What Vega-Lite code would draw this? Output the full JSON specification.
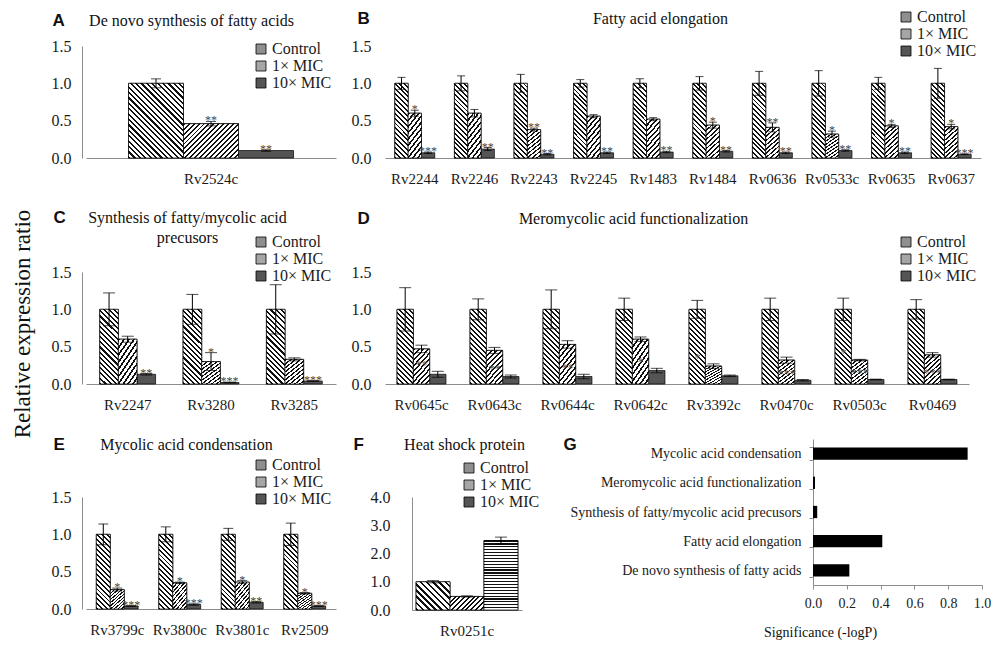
{
  "$schema": "https://vega.github.io/schema/vega-lite/v6.json",
  "background": "white",
  "padding": {"left": 11, "top": 9, "right": 5, "bottom": 5},
  "title": {"text": "Relative expression ratio", "orient": "left", "anchor": "middle", "font": "Liberation Serif", "fontSize": 23, "fontWeight": "normal", "color": "#111", "offset": 16},
  "params": [
    {"name": "s10", "value": [
      {"offset":0,"color":"#111"},{"offset":0.04,"color":"#111"},{"offset":0.04,"color":"#fff"},{"offset":0.1,"color":"#fff"},
      {"offset":0.1,"color":"#111"},{"offset":0.14,"color":"#111"},{"offset":0.14,"color":"#fff"},{"offset":0.2,"color":"#fff"},
      {"offset":0.2,"color":"#111"},{"offset":0.24,"color":"#111"},{"offset":0.24,"color":"#fff"},{"offset":0.3,"color":"#fff"},
      {"offset":0.3,"color":"#111"},{"offset":0.34,"color":"#111"},{"offset":0.34,"color":"#fff"},{"offset":0.4,"color":"#fff"},
      {"offset":0.4,"color":"#111"},{"offset":0.44,"color":"#111"},{"offset":0.44,"color":"#fff"},{"offset":0.5,"color":"#fff"},
      {"offset":0.5,"color":"#111"},{"offset":0.54,"color":"#111"},{"offset":0.54,"color":"#fff"},{"offset":0.6,"color":"#fff"},
      {"offset":0.6,"color":"#111"},{"offset":0.64,"color":"#111"},{"offset":0.64,"color":"#fff"},{"offset":0.7,"color":"#fff"},
      {"offset":0.7,"color":"#111"},{"offset":0.74,"color":"#111"},{"offset":0.74,"color":"#fff"},{"offset":0.8,"color":"#fff"},
      {"offset":0.8,"color":"#111"},{"offset":0.84,"color":"#111"},{"offset":0.84,"color":"#fff"},{"offset":0.9,"color":"#fff"},
      {"offset":0.9,"color":"#111"},{"offset":0.94,"color":"#111"},{"offset":0.94,"color":"#fff"},{"offset":1,"color":"#fff"}
    ]},
    {"name": "s18", "value": [
      {"offset":0,"color":"#111"},{"offset":0.0222,"color":"#111"},{"offset":0.0222,"color":"#fff"},{"offset":0.0556,"color":"#fff"},
      {"offset":0.0556,"color":"#111"},{"offset":0.0778,"color":"#111"},{"offset":0.0778,"color":"#fff"},{"offset":0.1111,"color":"#fff"},
      {"offset":0.1111,"color":"#111"},{"offset":0.1333,"color":"#111"},{"offset":0.1333,"color":"#fff"},{"offset":0.1667,"color":"#fff"},
      {"offset":0.1667,"color":"#111"},{"offset":0.1889,"color":"#111"},{"offset":0.1889,"color":"#fff"},{"offset":0.2222,"color":"#fff"},
      {"offset":0.2222,"color":"#111"},{"offset":0.2444,"color":"#111"},{"offset":0.2444,"color":"#fff"},{"offset":0.2778,"color":"#fff"},
      {"offset":0.2778,"color":"#111"},{"offset":0.3,"color":"#111"},{"offset":0.3,"color":"#fff"},{"offset":0.3333,"color":"#fff"},
      {"offset":0.3333,"color":"#111"},{"offset":0.3556,"color":"#111"},{"offset":0.3556,"color":"#fff"},{"offset":0.3889,"color":"#fff"},
      {"offset":0.3889,"color":"#111"},{"offset":0.4111,"color":"#111"},{"offset":0.4111,"color":"#fff"},{"offset":0.4444,"color":"#fff"},
      {"offset":0.4444,"color":"#111"},{"offset":0.4667,"color":"#111"},{"offset":0.4667,"color":"#fff"},{"offset":0.5,"color":"#fff"},
      {"offset":0.5,"color":"#111"},{"offset":0.5222,"color":"#111"},{"offset":0.5222,"color":"#fff"},{"offset":0.5556,"color":"#fff"},
      {"offset":0.5556,"color":"#111"},{"offset":0.5778,"color":"#111"},{"offset":0.5778,"color":"#fff"},{"offset":0.6111,"color":"#fff"},
      {"offset":0.6111,"color":"#111"},{"offset":0.6333,"color":"#111"},{"offset":0.6333,"color":"#fff"},{"offset":0.6667,"color":"#fff"},
      {"offset":0.6667,"color":"#111"},{"offset":0.6889,"color":"#111"},{"offset":0.6889,"color":"#fff"},{"offset":0.7222,"color":"#fff"},
      {"offset":0.7222,"color":"#111"},{"offset":0.7444,"color":"#111"},{"offset":0.7444,"color":"#fff"},{"offset":0.7778,"color":"#fff"},
      {"offset":0.7778,"color":"#111"},{"offset":0.8,"color":"#111"},{"offset":0.8,"color":"#fff"},{"offset":0.8333,"color":"#fff"},
      {"offset":0.8333,"color":"#111"},{"offset":0.8556,"color":"#111"},{"offset":0.8556,"color":"#fff"},{"offset":0.8889,"color":"#fff"},
      {"offset":0.8889,"color":"#111"},{"offset":0.9111,"color":"#111"},{"offset":0.9111,"color":"#fff"},{"offset":0.9444,"color":"#fff"},
      {"offset":0.9444,"color":"#111"},{"offset":0.9667,"color":"#111"},{"offset":0.9667,"color":"#fff"},{"offset":1,"color":"#fff"}
    ]},
    {"name": "s24", "value": [
      {"offset":0,"color":"#111"},{"offset":0.0167,"color":"#111"},{"offset":0.0167,"color":"#fff"},{"offset":0.0417,"color":"#fff"},
      {"offset":0.0417,"color":"#111"},{"offset":0.0584,"color":"#111"},{"offset":0.0584,"color":"#fff"},{"offset":0.0833,"color":"#fff"},
      {"offset":0.0833,"color":"#111"},{"offset":0.1,"color":"#111"},{"offset":0.1,"color":"#fff"},{"offset":0.125,"color":"#fff"},
      {"offset":0.125,"color":"#111"},{"offset":0.1417,"color":"#111"},{"offset":0.1417,"color":"#fff"},{"offset":0.1667,"color":"#fff"},
      {"offset":0.1667,"color":"#111"},{"offset":0.1834,"color":"#111"},{"offset":0.1834,"color":"#fff"},{"offset":0.2083,"color":"#fff"},
      {"offset":0.2083,"color":"#111"},{"offset":0.225,"color":"#111"},{"offset":0.225,"color":"#fff"},{"offset":0.25,"color":"#fff"},
      {"offset":0.25,"color":"#111"},{"offset":0.2667,"color":"#111"},{"offset":0.2667,"color":"#fff"},{"offset":0.2917,"color":"#fff"},
      {"offset":0.2917,"color":"#111"},{"offset":0.3084,"color":"#111"},{"offset":0.3084,"color":"#fff"},{"offset":0.3333,"color":"#fff"},
      {"offset":0.3333,"color":"#111"},{"offset":0.35,"color":"#111"},{"offset":0.35,"color":"#fff"},{"offset":0.375,"color":"#fff"},
      {"offset":0.375,"color":"#111"},{"offset":0.3917,"color":"#111"},{"offset":0.3917,"color":"#fff"},{"offset":0.4167,"color":"#fff"},
      {"offset":0.4167,"color":"#111"},{"offset":0.4334,"color":"#111"},{"offset":0.4334,"color":"#fff"},{"offset":0.4583,"color":"#fff"},
      {"offset":0.4583,"color":"#111"},{"offset":0.475,"color":"#111"},{"offset":0.475,"color":"#fff"},{"offset":0.5,"color":"#fff"},
      {"offset":0.5,"color":"#111"},{"offset":0.5167,"color":"#111"},{"offset":0.5167,"color":"#fff"},{"offset":0.5417,"color":"#fff"},
      {"offset":0.5417,"color":"#111"},{"offset":0.5584,"color":"#111"},{"offset":0.5584,"color":"#fff"},{"offset":0.5833,"color":"#fff"},
      {"offset":0.5833,"color":"#111"},{"offset":0.6,"color":"#111"},{"offset":0.6,"color":"#fff"},{"offset":0.625,"color":"#fff"},
      {"offset":0.625,"color":"#111"},{"offset":0.6417,"color":"#111"},{"offset":0.6417,"color":"#fff"},{"offset":0.6667,"color":"#fff"},
      {"offset":0.6667,"color":"#111"},{"offset":0.6834,"color":"#111"},{"offset":0.6834,"color":"#fff"},{"offset":0.7083,"color":"#fff"},
      {"offset":0.7083,"color":"#111"},{"offset":0.725,"color":"#111"},{"offset":0.725,"color":"#fff"},{"offset":0.75,"color":"#fff"},
      {"offset":0.75,"color":"#111"},{"offset":0.7667,"color":"#111"},{"offset":0.7667,"color":"#fff"},{"offset":0.7917,"color":"#fff"},
      {"offset":0.7917,"color":"#111"},{"offset":0.8084,"color":"#111"},{"offset":0.8084,"color":"#fff"},{"offset":0.8333,"color":"#fff"},
      {"offset":0.8333,"color":"#111"},{"offset":0.85,"color":"#111"},{"offset":0.85,"color":"#fff"},{"offset":0.875,"color":"#fff"},
      {"offset":0.875,"color":"#111"},{"offset":0.8917,"color":"#111"},{"offset":0.8917,"color":"#fff"},{"offset":0.9167,"color":"#fff"},
      {"offset":0.9167,"color":"#111"},{"offset":0.9334,"color":"#111"},{"offset":0.9334,"color":"#fff"},{"offset":0.9583,"color":"#fff"},
      {"offset":0.9583,"color":"#111"},{"offset":0.975,"color":"#111"},{"offset":0.975,"color":"#fff"},{"offset":1,"color":"#fff"}
    ]}
  ],
  "config": {
    "view": {"stroke": null},
    "font": "Liberation Serif",
    "axis": {"grid": false, "ticks": false, "labelOverlap": false, "labelFlush": false, "domainColor": "#8c8c8c", "domainWidth": 1, "labelFont": "Liberation Serif", "labelColor": "#1a1a1a", "titleColor": "#111"},
    "axisX": {"labelAngle": 0, "labelFontSize": 15, "labelPadding": 13, "titleFont": "Liberation Serif", "titleFontWeight": "normal", "titleFontSize": 16, "titleAlign": "center", "titleBaseline": "middle"},
    "axisY": {"labelFontSize": 16, "titleFont": "Liberation Sans", "titleFontWeight": "bold", "titleFontSize": 17, "titleAngle": 0, "titleAlign": "left", "titleBaseline": "middle"},
    "legend": {"orient": "none", "symbolType": "square", "symbolSize": 100, "symbolStrokeColor": "#000", "symbolStrokeWidth": 0.8, "labelFont": "Liberation Serif", "labelFontSize": 16, "labelColor": "#1a1a1a", "rowPadding": 1, "labelOffset": 3, "padding": 0}
  },
  "datasets": {
    "A": [
      {"gene": "Rv2524c", "treatment": "Control", "value": 1.0, "lo": 0.94, "hi": 1.06, "star": ""},
      {"gene": "Rv2524c", "treatment": "1× MIC", "value": 0.46, "lo": 0.43, "hi": 0.49, "star": "**"},
      {"gene": "Rv2524c", "treatment": "10× MIC", "value": 0.10, "lo": 0.09, "hi": 0.11, "star": "**"}
    ],
    "B": [
      {"gene": "Rv2244", "treatment": "Control", "value": 1.0, "lo": 0.92, "hi": 1.08, "star": ""},
      {"gene": "Rv2244", "treatment": "1× MIC", "value": 0.60, "lo": 0.56, "hi": 0.64, "star": "*"},
      {"gene": "Rv2244", "treatment": "10× MIC", "value": 0.07, "lo": 0.06, "hi": 0.08, "star": "***"},
      {"gene": "Rv2246", "treatment": "Control", "value": 1.0, "lo": 0.90, "hi": 1.10, "star": ""},
      {"gene": "Rv2246", "treatment": "1× MIC", "value": 0.60, "lo": 0.55, "hi": 0.65, "star": ""},
      {"gene": "Rv2246", "treatment": "10× MIC", "value": 0.12, "lo": 0.10, "hi": 0.14, "star": "**"},
      {"gene": "Rv2243", "treatment": "Control", "value": 1.0, "lo": 0.88, "hi": 1.12, "star": ""},
      {"gene": "Rv2243", "treatment": "1× MIC", "value": 0.38, "lo": 0.36, "hi": 0.40, "star": "**"},
      {"gene": "Rv2243", "treatment": "10× MIC", "value": 0.05, "lo": 0.04, "hi": 0.06, "star": "**"},
      {"gene": "Rv2245", "treatment": "Control", "value": 1.0, "lo": 0.95, "hi": 1.05, "star": ""},
      {"gene": "Rv2245", "treatment": "1× MIC", "value": 0.56, "lo": 0.54, "hi": 0.58, "star": ""},
      {"gene": "Rv2245", "treatment": "10× MIC", "value": 0.07, "lo": 0.06, "hi": 0.08, "star": "**"},
      {"gene": "Rv1483", "treatment": "Control", "value": 1.0, "lo": 0.94, "hi": 1.06, "star": ""},
      {"gene": "Rv1483", "treatment": "1× MIC", "value": 0.52, "lo": 0.50, "hi": 0.54, "star": ""},
      {"gene": "Rv1483", "treatment": "10× MIC", "value": 0.08, "lo": 0.07, "hi": 0.09, "star": "**"},
      {"gene": "Rv1484", "treatment": "Control", "value": 1.0, "lo": 0.91, "hi": 1.09, "star": ""},
      {"gene": "Rv1484", "treatment": "1× MIC", "value": 0.44, "lo": 0.40, "hi": 0.48, "star": "*"},
      {"gene": "Rv1484", "treatment": "10× MIC", "value": 0.09, "lo": 0.08, "hi": 0.10, "star": "**"},
      {"gene": "Rv0636", "treatment": "Control", "value": 1.0, "lo": 0.84, "hi": 1.16, "star": ""},
      {"gene": "Rv0636", "treatment": "1× MIC", "value": 0.41, "lo": 0.35, "hi": 0.47, "star": "**"},
      {"gene": "Rv0636", "treatment": "10× MIC", "value": 0.07, "lo": 0.06, "hi": 0.08, "star": "**"},
      {"gene": "Rv0533c", "treatment": "Control", "value": 1.0, "lo": 0.83, "hi": 1.17, "star": ""},
      {"gene": "Rv0533c", "treatment": "1× MIC", "value": 0.32, "lo": 0.28, "hi": 0.36, "star": "*"},
      {"gene": "Rv0533c", "treatment": "10× MIC", "value": 0.10, "lo": 0.09, "hi": 0.11, "star": "**"},
      {"gene": "Rv0635", "treatment": "Control", "value": 1.0, "lo": 0.92, "hi": 1.08, "star": ""},
      {"gene": "Rv0635", "treatment": "1× MIC", "value": 0.43, "lo": 0.41, "hi": 0.45, "star": "*"},
      {"gene": "Rv0635", "treatment": "10× MIC", "value": 0.07, "lo": 0.06, "hi": 0.08, "star": "**"},
      {"gene": "Rv0637", "treatment": "Control", "value": 1.0, "lo": 0.80, "hi": 1.20, "star": ""},
      {"gene": "Rv0637", "treatment": "1× MIC", "value": 0.42, "lo": 0.39, "hi": 0.45, "star": "*"},
      {"gene": "Rv0637", "treatment": "10× MIC", "value": 0.05, "lo": 0.045, "hi": 0.055, "star": "***"}
    ],
    "C": [
      {"gene": "Rv2247", "treatment": "Control", "value": 1.0, "lo": 0.78, "hi": 1.22, "star": ""},
      {"gene": "Rv2247", "treatment": "1× MIC", "value": 0.60, "lo": 0.56, "hi": 0.64, "star": ""},
      {"gene": "Rv2247", "treatment": "10× MIC", "value": 0.13, "lo": 0.12, "hi": 0.14, "star": "**"},
      {"gene": "Rv3280", "treatment": "Control", "value": 1.0, "lo": 0.80, "hi": 1.20, "star": ""},
      {"gene": "Rv3280", "treatment": "1× MIC", "value": 0.30, "lo": 0.18, "hi": 0.42, "star": "*"},
      {"gene": "Rv3280", "treatment": "10× MIC", "value": 0.02, "lo": 0.015, "hi": 0.025, "star": "***"},
      {"gene": "Rv3285", "treatment": "Control", "value": 1.0, "lo": 0.67, "hi": 1.33, "star": ""},
      {"gene": "Rv3285", "treatment": "1× MIC", "value": 0.33, "lo": 0.31, "hi": 0.35, "star": ""},
      {"gene": "Rv3285", "treatment": "10× MIC", "value": 0.04, "lo": 0.035, "hi": 0.045, "star": "***"}
    ],
    "D": [
      {"gene": "Rv0645c", "treatment": "Control", "value": 1.0, "lo": 0.71, "hi": 1.29, "star": ""},
      {"gene": "Rv0645c", "treatment": "1× MIC", "value": 0.47, "lo": 0.42, "hi": 0.52, "star": ""},
      {"gene": "Rv0645c", "treatment": "10× MIC", "value": 0.13, "lo": 0.09, "hi": 0.17, "star": "**"},
      {"gene": "Rv0643c", "treatment": "Control", "value": 1.0, "lo": 0.86, "hi": 1.14, "star": ""},
      {"gene": "Rv0643c", "treatment": "1× MIC", "value": 0.45, "lo": 0.41, "hi": 0.49, "star": ""},
      {"gene": "Rv0643c", "treatment": "10× MIC", "value": 0.10, "lo": 0.08, "hi": 0.12, "star": "**"},
      {"gene": "Rv0644c", "treatment": "Control", "value": 1.0, "lo": 0.74, "hi": 1.26, "star": ""},
      {"gene": "Rv0644c", "treatment": "1× MIC", "value": 0.53, "lo": 0.48, "hi": 0.58, "star": ""},
      {"gene": "Rv0644c", "treatment": "10× MIC", "value": 0.10, "lo": 0.07, "hi": 0.13, "star": "**"},
      {"gene": "Rv0642c", "treatment": "Control", "value": 1.0, "lo": 0.85, "hi": 1.15, "star": ""},
      {"gene": "Rv0642c", "treatment": "1× MIC", "value": 0.60, "lo": 0.57, "hi": 0.63, "star": ""},
      {"gene": "Rv0642c", "treatment": "10× MIC", "value": 0.18, "lo": 0.15, "hi": 0.21, "star": "*"},
      {"gene": "Rv3392c", "treatment": "Control", "value": 1.0, "lo": 0.88, "hi": 1.12, "star": ""},
      {"gene": "Rv3392c", "treatment": "1× MIC", "value": 0.24, "lo": 0.21, "hi": 0.27, "star": "*"},
      {"gene": "Rv3392c", "treatment": "10× MIC", "value": 0.11, "lo": 0.10, "hi": 0.12, "star": ""},
      {"gene": "Rv0470c", "treatment": "Control", "value": 1.0, "lo": 0.85, "hi": 1.15, "star": ""},
      {"gene": "Rv0470c", "treatment": "1× MIC", "value": 0.32, "lo": 0.28, "hi": 0.36, "star": "*"},
      {"gene": "Rv0470c", "treatment": "10× MIC", "value": 0.05, "lo": 0.04, "hi": 0.06, "star": "***"},
      {"gene": "Rv0503c", "treatment": "Control", "value": 1.0, "lo": 0.85, "hi": 1.15, "star": ""},
      {"gene": "Rv0503c", "treatment": "1× MIC", "value": 0.32, "lo": 0.31, "hi": 0.33, "star": "*"},
      {"gene": "Rv0503c", "treatment": "10× MIC", "value": 0.06, "lo": 0.055, "hi": 0.065, "star": "***"},
      {"gene": "Rv0469", "treatment": "Control", "value": 1.0, "lo": 0.87, "hi": 1.13, "star": ""},
      {"gene": "Rv0469", "treatment": "1× MIC", "value": 0.39, "lo": 0.36, "hi": 0.42, "star": ""},
      {"gene": "Rv0469", "treatment": "10× MIC", "value": 0.06, "lo": 0.055, "hi": 0.065, "star": "***"}
    ],
    "E": [
      {"gene": "Rv3799c", "treatment": "Control", "value": 1.0, "lo": 0.86, "hi": 1.14, "star": ""},
      {"gene": "Rv3799c", "treatment": "1× MIC", "value": 0.26, "lo": 0.24, "hi": 0.28, "star": "*"},
      {"gene": "Rv3799c", "treatment": "10× MIC", "value": 0.04, "lo": 0.035, "hi": 0.045, "star": "***"},
      {"gene": "Rv3800c", "treatment": "Control", "value": 1.0, "lo": 0.90, "hi": 1.10, "star": ""},
      {"gene": "Rv3800c", "treatment": "1× MIC", "value": 0.35, "lo": 0.34, "hi": 0.36, "star": "*"},
      {"gene": "Rv3800c", "treatment": "10× MIC", "value": 0.06, "lo": 0.05, "hi": 0.07, "star": "***"},
      {"gene": "Rv3801c", "treatment": "Control", "value": 1.0, "lo": 0.92, "hi": 1.08, "star": ""},
      {"gene": "Rv3801c", "treatment": "1× MIC", "value": 0.36, "lo": 0.34, "hi": 0.38, "star": "*"},
      {"gene": "Rv3801c", "treatment": "10× MIC", "value": 0.09, "lo": 0.08, "hi": 0.10, "star": "**"},
      {"gene": "Rv2509", "treatment": "Control", "value": 1.0, "lo": 0.85, "hi": 1.15, "star": ""},
      {"gene": "Rv2509", "treatment": "1× MIC", "value": 0.21, "lo": 0.20, "hi": 0.22, "star": "*"},
      {"gene": "Rv2509", "treatment": "10× MIC", "value": 0.04, "lo": 0.035, "hi": 0.045, "star": "***"}
    ],
    "F": [
      {"gene": "Rv0251c", "treatment": "Control", "value": 1.0, "lo": 0.96, "hi": 1.04, "star": ""},
      {"gene": "Rv0251c", "treatment": "1× MIC", "value": 0.48, "lo": 0.46, "hi": 0.50, "star": ""},
      {"gene": "Rv0251c", "treatment": "10× MIC", "value": 2.46, "lo": 2.34, "hi": 2.58, "star": ""}
    ],
    "G": [
      {"category": "Mycolic acid condensation", "significance": 0.915},
      {"category": "Meromycolic acid functionalization", "significance": 0.012},
      {"category": "Synthesis of fatty/mycolic acid precusors", "significance": 0.025},
      {"category": "Fatty acid elongation", "significance": 0.41},
      {"category": "De novo synthesis of fatty acids", "significance": 0.215}
    ]
  },
  "vconcat": [
    {
      "vconcat": [
        {
          "hconcat": [
            {
              "width": 250, "height": 112,
              "data": {"name": "A"},
              "encoding": {
                "x": {"field": "gene", "type": "nominal", "sort": null, "scale": {"paddingInner": 0.34, "paddingOuter": 0.17},
                      "axis": {"title": "De novo synthesis of fatty acids", "titleX": 105, "titleY": -138}},
                "xOffset": {"field": "treatment", "type": "nominal", "scale": {"domain": ["Control", "1× MIC", "10× MIC"], "paddingInner": 0, "paddingOuter": 0}}
              },
              "layer": [
                {"mark": {"type": "bar", "stroke": "#000", "strokeWidth": 0.7},
                 "encoding": {
                   "y": {"field": "value", "type": "quantitative", "scale": {"domain": [0, 1.5], "nice": false},
                         "axis": {"values": [0, 0.5, 1, 1.5], "tickCount": 10, "format": ".1f", "labelOverlap": false, "title": "A", "titleX": -30, "titleY": -26, "offset": 4, "labelPadding": 11}},
                   "fill": {"field": "treatment", "type": "nominal", "scale": {"domain": ["Control", "1× MIC", "10× MIC"], "range": ["#8f8f8f", "#a6a6a6", "#555555"]},
                            "legend": {"title": null, "legendX": 167, "legendY": -5}}
                 }},
                {"transform": [{"filter": "datum.treatment === 'Control'"}],
                 "mark": {"type": "bar", "stroke": "#000", "strokeWidth": 0.7, "fill": {"expr": "{'gradient':'linear','x1':0,'y1':1,'x2':0.828,'y2':-0.126,'stops':s24}"}},
                 "encoding": {"y": {"field": "value", "type": "quantitative"}}},
                {"transform": [{"filter": "datum.treatment === '1× MIC'"}],
                 "mark": {"type": "bar", "stroke": "#000", "strokeWidth": 0.7, "fill": {"expr": "{'gradient':'linear','x1':0,'y1':0,'x2':1.169,'y2':0.73,'stops':s18}"}},
                 "encoding": {"y": {"field": "value", "type": "quantitative"}}},
                {"mark": {"type": "rule", "color": "#000", "strokeWidth": 1}, "encoding": {"y": {"field": "lo", "type": "quantitative"}, "y2": {"field": "hi"}}},
                {"mark": {"type": "tick", "color": "#000", "size": 10, "thickness": 1}, "encoding": {"y": {"field": "hi", "type": "quantitative"}}},
                {"mark": {"type": "tick", "color": "#000", "size": 10, "thickness": 1}, "encoding": {"y": {"field": "lo", "type": "quantitative"}}},
                {"mark": {"type": "text", "baseline": "alphabetic", "dy": 3, "fontSize": 12, "fill": "#444"}, "encoding": {"y": {"field": "hi", "type": "quantitative"}, "text": {"field": "star"}}}
              ]
            },
            {
              "width": 596, "height": 112,
              "data": {"name": "B"},
              "encoding": {
                "x": {"field": "gene", "type": "nominal", "sort": null, "scale": {"paddingInner": 0.33, "paddingOuter": 0.165},
                      "axis": {"title": "Fatty acid elongation", "titleX": 275, "titleY": -140}},
                "xOffset": {"field": "treatment", "type": "nominal", "scale": {"domain": ["Control", "1× MIC", "10× MIC"], "paddingInner": 0, "paddingOuter": 0}}
              },
              "layer": [
                {"mark": {"type": "bar", "stroke": "#000", "strokeWidth": 0.7},
                 "encoding": {
                   "y": {"field": "value", "type": "quantitative", "scale": {"domain": [0, 1.5], "nice": false},
                         "axis": {"values": [0, 0.5, 1, 1.5], "tickCount": 10, "format": ".1f", "labelOverlap": false, "title": "B", "titleX": -28, "titleY": -28, "domain": false, "labelPadding": 14}},
                   "fill": {"field": "treatment", "type": "nominal", "scale": {"domain": ["Control", "1× MIC", "10× MIC"], "range": ["#8f8f8f", "#a6a6a6", "#555555"]},
                            "legend": {"title": null, "legendX": 513, "legendY": -37}}
                 }},
                {"transform": [{"filter": "datum.treatment === 'Control'"}],
                 "mark": {"type": "bar", "stroke": "#000", "strokeWidth": 0.7, "fill": {"expr": "{'gradient':'linear','x1':0,'y1':1,'x2':0.204,'y2':-0.141,'stops':s18}"}},
                 "encoding": {"y": {"field": "value", "type": "quantitative"}}},
                {"transform": [{"filter": "datum.treatment === '1× MIC'"}],
                 "mark": {"type": "bar", "stroke": "#000", "strokeWidth": 0.7, "fill": {"expr": "{'gradient':'linear','x1':0,'y1':0,'x2':0.458,'y2':1.205,'stops':s10}"}},
                 "encoding": {"y": {"field": "value", "type": "quantitative"}}},
                {"mark": {"type": "rule", "color": "#000", "strokeWidth": 1}, "encoding": {"y": {"field": "lo", "type": "quantitative"}, "y2": {"field": "hi"}}},
                {"mark": {"type": "tick", "color": "#000", "size": 8, "thickness": 1}, "encoding": {"y": {"field": "hi", "type": "quantitative"}}},
                {"mark": {"type": "tick", "color": "#000", "size": 8, "thickness": 1}, "encoding": {"y": {"field": "lo", "type": "quantitative"}}},
                {"mark": {"type": "text", "baseline": "alphabetic", "dy": 3, "fontSize": 12, "fill": "#444"}, "encoding": {"y": {"field": "hi", "type": "quantitative"}, "text": {"field": "star"}}}
              ]
            }
          ],
          "spacing": 49, "bounds": "flush",
          "resolve": {"scale": {"fill": "independent", "xOffset": "independent"}, "legend": {"fill": "independent"}}
        },
        {
          "hconcat": [
            {
              "width": 250, "height": 112,
              "data": {"name": "C"},
              "encoding": {
                "x": {"field": "gene", "type": "nominal", "sort": null, "scale": {"paddingInner": 0.33, "paddingOuter": 0.165},
                      "axis": {"title": ["Synthesis of fatty/mycolic acid", "precusors"], "titleLineHeight": 20, "titleX": 101, "titleY": -167}},
                "xOffset": {"field": "treatment", "type": "nominal", "scale": {"domain": ["Control", "1× MIC", "10× MIC"], "paddingInner": 0, "paddingOuter": 0}}
              },
              "layer": [
                {"mark": {"type": "bar", "stroke": "#000", "strokeWidth": 0.7},
                 "encoding": {
                   "y": {"field": "value", "type": "quantitative", "scale": {"domain": [0, 1.5], "nice": false},
                         "axis": {"values": [0, 0.5, 1, 1.5], "tickCount": 10, "format": ".1f", "labelOverlap": false, "title": "C", "titleX": -29, "titleY": -55, "offset": 4, "labelPadding": 11}},
                   "fill": {"field": "treatment", "type": "nominal", "scale": {"domain": ["Control", "1× MIC", "10× MIC"], "range": ["#8f8f8f", "#a6a6a6", "#555555"]},
                            "legend": {"title": null, "legendX": 167, "legendY": -38}}
                 }},
                {"transform": [{"filter": "datum.treatment === 'Control'"}],
                 "mark": {"type": "bar", "stroke": "#000", "strokeWidth": 0.7, "fill": {"expr": "{'gradient':'linear','x1':0,'y1':1,'x2':0.292,'y2':-0.174,'stops':s18}"}},
                 "encoding": {"y": {"field": "value", "type": "quantitative"}}},
                {"transform": [{"filter": "datum.treatment === '1× MIC'"}],
                 "mark": {"type": "bar", "stroke": "#000", "strokeWidth": 0.7, "fill": {"expr": "{'gradient':'linear','x1':0,'y1':0,'x2':0.714,'y2':1.174,'stops':s10}"}},
                 "encoding": {"y": {"field": "value", "type": "quantitative"}}},
                {"mark": {"type": "rule", "color": "#000", "strokeWidth": 1}, "encoding": {"y": {"field": "lo", "type": "quantitative"}, "y2": {"field": "hi"}}},
                {"mark": {"type": "tick", "color": "#000", "size": 12, "thickness": 1}, "encoding": {"y": {"field": "hi", "type": "quantitative"}}},
                {"mark": {"type": "tick", "color": "#000", "size": 12, "thickness": 1}, "encoding": {"y": {"field": "lo", "type": "quantitative"}}},
                {"mark": {"type": "text", "baseline": "alphabetic", "dy": 3, "fontSize": 12, "fill": "#444"}, "encoding": {"y": {"field": "hi", "type": "quantitative"}, "text": {"field": "star"}}}
              ]
            },
            {
              "width": 584, "height": 112,
              "data": {"name": "D"},
              "encoding": {
                "x": {"field": "gene", "type": "nominal", "sort": null, "scale": {"paddingInner": 0.33, "paddingOuter": 0.165},
                      "axis": {"title": "Meromycolic acid functionalization", "titleX": 248, "titleY": -166}},
                "xOffset": {"field": "treatment", "type": "nominal", "scale": {"domain": ["Control", "1× MIC", "10× MIC"], "paddingInner": 0, "paddingOuter": 0}}
              },
              "layer": [
                {"mark": {"type": "bar", "stroke": "#000", "strokeWidth": 0.7},
                 "encoding": {
                   "y": {"field": "value", "type": "quantitative", "scale": {"domain": [0, 1.5], "nice": false},
                         "axis": {"values": [0, 0.5, 1, 1.5], "tickCount": 10, "format": ".1f", "labelOverlap": false, "title": "D", "titleX": -28, "titleY": -54, "domain": false, "labelPadding": 14}},
                   "fill": {"field": "treatment", "type": "nominal", "scale": {"domain": ["Control", "1× MIC", "10× MIC"], "range": ["#8f8f8f", "#a6a6a6", "#555555"]},
                            "legend": {"title": null, "legendX": 513, "legendY": -38}}
                 }},
                {"transform": [{"filter": "datum.treatment === 'Control'"}],
                 "mark": {"type": "bar", "stroke": "#000", "strokeWidth": 0.7, "fill": {"expr": "{'gradient':'linear','x1':0,'y1':1,'x2':0.254,'y2':-0.163,'stops':s18}"}},
                 "encoding": {"y": {"field": "value", "type": "quantitative"}}},
                {"transform": [{"filter": "datum.treatment === '1× MIC'"}],
                 "mark": {"type": "bar", "stroke": "#000", "strokeWidth": 0.7, "fill": {"expr": "{'gradient':'linear','x1':0,'y1':0,'x2':0.621,'y2':1.198,'stops':s10}"}},
                 "encoding": {"y": {"field": "value", "type": "quantitative"}}},
                {"mark": {"type": "rule", "color": "#000", "strokeWidth": 1}, "encoding": {"y": {"field": "lo", "type": "quantitative"}, "y2": {"field": "hi"}}},
                {"mark": {"type": "tick", "color": "#000", "size": 12, "thickness": 1}, "encoding": {"y": {"field": "hi", "type": "quantitative"}}},
                {"mark": {"type": "tick", "color": "#000", "size": 12, "thickness": 1}, "encoding": {"y": {"field": "lo", "type": "quantitative"}}},
                {"mark": {"type": "text", "baseline": "alphabetic", "dx": -16, "dy": -2, "fontSize": 12, "fill": "#555"}, "encoding": {"y": {"field": "hi", "type": "quantitative"}, "text": {"field": "star"}}}
              ]
            }
          ],
          "spacing": 49, "bounds": "flush",
          "resolve": {"scale": {"fill": "independent", "xOffset": "independent"}, "legend": {"fill": "independent"}}
        }
      ],
      "spacing": 22,
      "resolve": {"scale": {"fill": "independent", "xOffset": "independent"}, "legend": {"fill": "independent"}}
    },
    {
      "hconcat": [
        {
          "vconcat": [
            {"width": 20, "height": 1, "data": {"values": []}, "mark": "point"},
            {
              "hconcat": [
                {
                  "width": 250, "height": 112,
                  "data": {"name": "E"},
                  "encoding": {
                    "x": {"field": "gene", "type": "nominal", "sort": null, "scale": {"paddingInner": 0.33, "paddingOuter": 0.165},
                          "axis": {"title": "Mycolic acid condensation", "titleX": 100, "titleY": -165}},
                    "xOffset": {"field": "treatment", "type": "nominal", "scale": {"domain": ["Control", "1× MIC", "10× MIC"], "paddingInner": 0, "paddingOuter": 0}}
                  },
                  "layer": [
                    {"mark": {"type": "bar", "stroke": "#000", "strokeWidth": 0.7},
                     "encoding": {
                       "y": {"field": "value", "type": "quantitative", "scale": {"domain": [0, 1.5], "nice": false},
                             "axis": {"values": [0, 0.5, 1, 1.5], "tickCount": 10, "format": ".1f", "labelOverlap": false, "title": "E", "titleX": -29, "titleY": -53, "offset": 4, "labelPadding": 11}},
                       "fill": {"field": "treatment", "type": "nominal", "scale": {"domain": ["Control", "1× MIC", "10× MIC"], "range": ["#8f8f8f", "#a6a6a6", "#555555"]},
                                "legend": {"title": null, "legendX": 167, "legendY": -40}}
                     }},
                    {"transform": [{"filter": "datum.treatment === 'Control'"}],
                     "mark": {"type": "bar", "stroke": "#000", "strokeWidth": 0.7, "fill": {"expr": "{'gradient':'linear','x1':0,'y1':1,'x2':0.2145,'y2':-0.148,'stops':s18}"}},
                     "encoding": {"y": {"field": "value", "type": "quantitative"}}},
                    {"transform": [{"filter": "datum.treatment === '1× MIC'"}],
                     "mark": {"type": "bar", "stroke": "#000", "strokeWidth": 0.7, "fill": {"expr": "{'gradient':'linear','x1':0,'y1':0,'x2':0.73,'y2':1.168,'stops':s10}"}},
                     "encoding": {"y": {"field": "value", "type": "quantitative"}}},
                    {"mark": {"type": "rule", "color": "#000", "strokeWidth": 1}, "encoding": {"y": {"field": "lo", "type": "quantitative"}, "y2": {"field": "hi"}}},
                    {"mark": {"type": "tick", "color": "#000", "size": 10, "thickness": 1}, "encoding": {"y": {"field": "hi", "type": "quantitative"}}},
                    {"mark": {"type": "tick", "color": "#000", "size": 10, "thickness": 1}, "encoding": {"y": {"field": "lo", "type": "quantitative"}}},
                    {"mark": {"type": "text", "baseline": "alphabetic", "dy": 3, "fontSize": 12, "fill": "#444"}, "encoding": {"y": {"field": "hi", "type": "quantitative"}, "text": {"field": "star"}}}
                  ]
                },
                {
                  "width": 110, "height": 113,
                  "data": {"name": "F"},
                  "encoding": {
                    "x": {"field": "gene", "type": "nominal", "sort": null, "scale": {"paddingInner": 0, "paddingOuter": 0.04},
                          "axis": {"title": "Heat shock protein", "titleX": 52, "titleY": -166}},
                    "xOffset": {"field": "treatment", "type": "nominal", "scale": {"domain": ["Control", "1× MIC", "10× MIC"], "paddingInner": 0, "paddingOuter": 0}}
                  },
                  "layer": [
                    {"mark": {"type": "bar", "stroke": "#000", "strokeWidth": 0.7},
                     "encoding": {
                       "y": {"field": "value", "type": "quantitative", "scale": {"domain": [0, 4], "nice": false},
                             "axis": {"values": [0, 1, 2, 3, 4], "tickCount": 10, "format": ".1f", "labelOverlap": false, "title": "F", "titleX": -59, "titleY": -53, "labelPadding": 22}},
                       "fill": {"field": "treatment", "type": "nominal", "scale": {"domain": ["Control", "1× MIC", "10× MIC"], "range": ["#8f8f8f", "#a6a6a6", "#555555"]},
                                "legend": {"title": null, "legendX": 49, "legendY": -37}}
                     }},
                    {"transform": [{"filter": "datum.treatment === 'Control'"}],
                     "mark": {"type": "bar", "stroke": "#000", "strokeWidth": 0.7, "fill": {"expr": "{'gradient':'linear','x1':0,'y1':1,'x2':1.083,'y2':0.099,'stops':s10}"}},
                     "encoding": {"y": {"field": "value", "type": "quantitative"}}},
                    {"transform": [{"filter": "datum.treatment === '1× MIC'"}],
                     "mark": {"type": "bar", "stroke": "#000", "strokeWidth": 0.7, "fill": {"expr": "{'gradient':'linear','x1':0,'y1':0,'x2':1.207,'y2':0.483,'stops':s10}"}},
                     "encoding": {"y": {"field": "value", "type": "quantitative"}}},
                    {"transform": [{"filter": "datum.treatment === '10× MIC'"}],
                     "mark": {"type": "bar", "stroke": "#000", "strokeWidth": 0.7, "fill": {"expr": "{'gradient':'linear','x1':0,'y1':0,'x2':0,'y2':1,'stops':s24}"}},
                     "encoding": {"y": {"field": "value", "type": "quantitative"}}},
                    {"mark": {"type": "rule", "color": "#000", "strokeWidth": 1}, "encoding": {"y": {"field": "lo", "type": "quantitative"}, "y2": {"field": "hi"}}},
                    {"mark": {"type": "tick", "color": "#000", "size": 12, "thickness": 1}, "encoding": {"y": {"field": "hi", "type": "quantitative"}}},
                    {"mark": {"type": "tick", "color": "#000", "size": 12, "thickness": 1}, "encoding": {"y": {"field": "lo", "type": "quantitative"}}}
                  ]
                }
              ],
              "spacing": 76, "bounds": "flush",
              "resolve": {"scale": {"fill": "independent", "xOffset": "independent"}, "legend": {"fill": "independent"}}
            }
          ],
          "spacing": 57, "bounds": "flush",
          "resolve": {"scale": {"fill": "independent", "xOffset": "independent"}, "legend": {"fill": "independent"}}
        },
        {
          "width": 169, "height": 146,
          "data": {"name": "G"},
          "mark": {"type": "bar", "color": "#000"},
          "encoding": {
            "y": {"field": "category", "type": "nominal", "sort": null, "scale": {"paddingInner": 0.58, "paddingOuter": 0.29},
                  "axis": {"title": "G", "titleX": -250, "titleY": 5, "labelFontSize": 14, "labelPadding": 8, "labelLimit": 400, "ticks": true, "tickBand": "extent", "tickSize": 4, "tickColor": "#8c8c8c"}},
            "x": {"field": "significance", "type": "quantitative", "scale": {"domain": [0, 1], "nice": false},
                  "axis": {"values": [0, 0.2, 0.4, 0.6, 0.8, 1], "tickCount": 10, "format": ".1f", "labelOverlap": false, "title": "Significance (-logP)", "titleX": 7, "titleY": 47, "titleFontSize": 14, "labelFontSize": 14, "labelPadding": 7, "ticks": true, "tickSize": 4, "tickColor": "#8c8c8c"}}
          }
        }
      ],
      "spacing": 23,
      "resolve": {"scale": {"fill": "independent", "xOffset": "independent"}, "legend": {"fill": "independent"}}
    }
  ],
  "spacing": 20,
  "resolve": {"scale": {"fill": "independent", "xOffset": "independent"}, "legend": {"fill": "independent"}}
}
